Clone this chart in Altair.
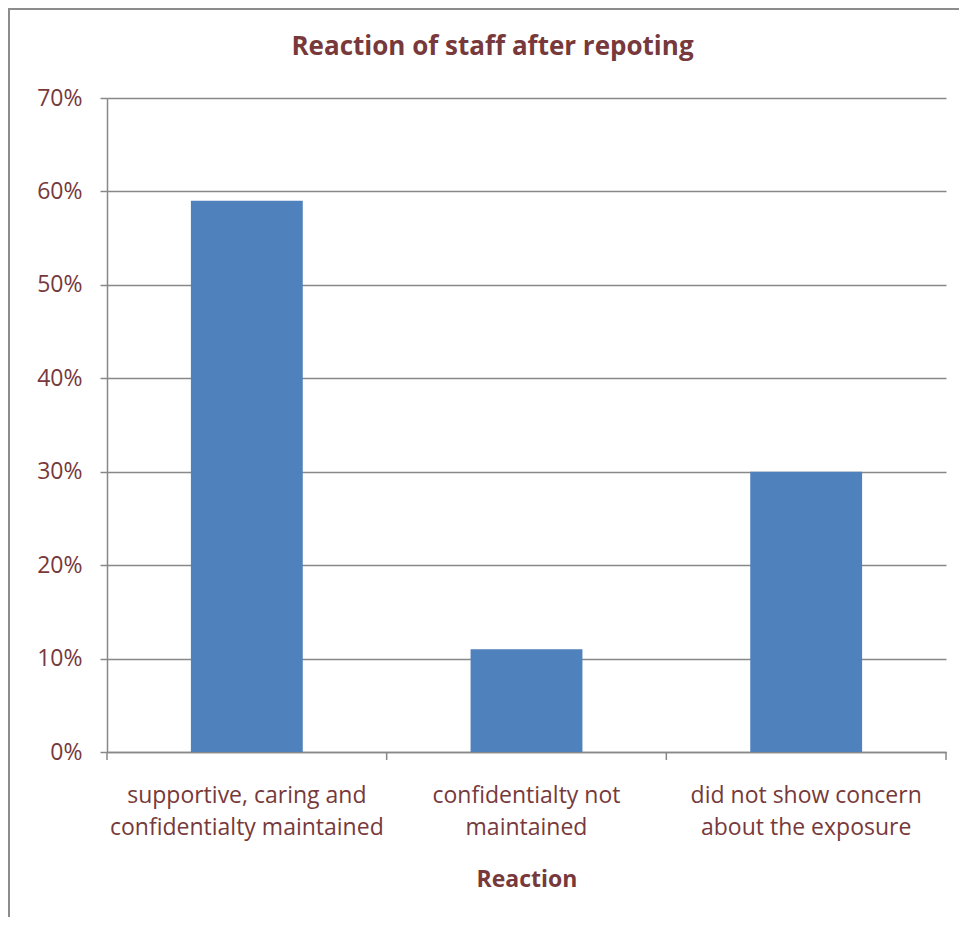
import altair as alt
import pandas as pd

# ---- data ----
categories = [
    "supportive, caring and confidentialty maintained",
    "confidentialty not maintained",
    "did not show concern about the exposure",
]
label_lines = [
    ["supportive, caring and", "confidentialty maintained"],
    ["confidentialty not", "maintained"],
    ["did not show concern", "about the exposure"],
]
values = [0.59, 0.11, 0.30]
y_ticks = [0.0, 0.1, 0.2, 0.3, 0.4, 0.5, 0.6, 0.7]

df = pd.DataFrame({"Reaction": categories, "value": values})

TEXT = "#77393B"
GRID = "#888888"
BAR = "#4F81BD"
FONT = "Open Sans"

W, H = 839, 654
PAD = {"left": 99, "top": 90, "right": 13, "bottom": 165}

# multi-line label expression
expr = "datum.label"
for c, lines in reversed(list(zip(categories, label_lines))):
    arr = "[" + ", ".join("'" + s + "'" for s in lines) + "]"
    expr = f"datum.value === '{c}' ? {arr} : ({expr})"

x_scale = alt.Scale(domain=categories, paddingInner=0, paddingOuter=0)

x_axis = alt.Axis(
    title="Reaction",
    labelAngle=0,
    labelExpr=expr,
    labelFont=FONT,
    labelFontSize=23,
    labelColor=TEXT,
    labelLineHeight=32,
    labelBaseline="top",
    labelPadding=32,
    labelLimit=0,
    ticks=False,
    domainColor=GRID,
    domainWidth=1.5,
    titleFont=FONT,
    titleFontSize=23,
    titleFontWeight="bold",
    titleColor=TEXT,
    titlePadding=29,
)

bars = alt.Chart(df).mark_bar(color=BAR, width=alt.RelativeBandSize(0.4)).encode(
    x=alt.X("Reaction:N", scale=x_scale, sort=categories, axis=x_axis),
    y=alt.Y(
        "value:Q",
        scale=alt.Scale(domain=[0, 0.7]),
        axis=alt.Axis(
            values=y_ticks,
            format=".0%",
            title=None,
            grid=True,
            gridColor=GRID,
            gridWidth=1.5,
            domainColor=GRID,
            domainWidth=1.5,
            tickColor=GRID,
            tickWidth=1.5,
            tickSize=7,
            labelFont=FONT,
            labelFontSize=23,
            labelColor=TEXT,
            labelPadding=18,
        ),
    ),
)

ticks = alt.Chart(df).mark_rule(color=GRID, strokeWidth=1.5).encode(
    x=alt.X("Reaction:N", scale=x_scale, sort=categories, bandPosition=0, axis=x_axis),
    y=alt.value(H),
    y2=alt.value(H + 8),
)
end_tick = (
    alt.Chart(df)
    .transform_filter(alt.datum.Reaction == categories[-1])
    .mark_rule(color=GRID, strokeWidth=1.5)
    .encode(
        x=alt.X("Reaction:N", scale=x_scale, sort=categories, bandPosition=1, axis=x_axis),
        y=alt.value(H),
        y2=alt.value(H + 8),
    )
)

frame_top = alt.Chart(df).mark_rule(color="#8C8C8C", strokeWidth=2).encode(
    x=alt.value(-PAD["left"]),
    x2=alt.value(W + PAD["right"]),
    y=alt.value(-PAD["top"] + 1),
)
frame_left = alt.Chart(df).mark_rule(color="#8C8C8C", strokeWidth=2).encode(
    x=alt.value(-PAD["left"] + 1),
    y=alt.value(-PAD["top"]),
    y2=alt.value(H + PAD["bottom"]),
)

chart = (
    alt.layer(bars, ticks, end_tick, frame_top, frame_left)
    .properties(
        width=W,
        height=H,
        padding=PAD,
        autosize=alt.AutoSizeParams(type="none"),
        title=alt.TitleParams(
            "Reaction of staff after repoting",
            font=FONT,
            fontSize=26,
            fontWeight="bold",
            color=TEXT,
            anchor="middle",
            baseline="alphabetic",
            dx=-34,
            offset=-74,
        ),
    )
    .configure_view(stroke=None)
)

chart.save("out.html", embed_options={"renderer": "svg", "actions": False})
